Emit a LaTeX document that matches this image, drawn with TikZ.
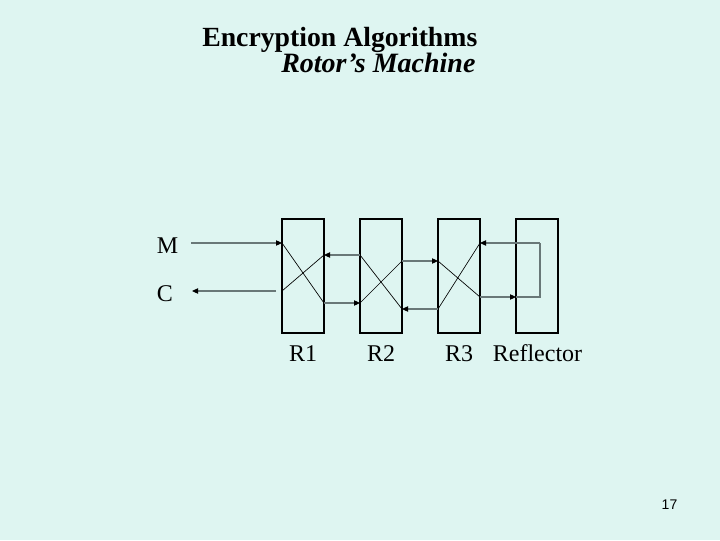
\documentclass[tikz,border=0pt]{standalone}
\usepackage{fontspec}
\setmainfont{Liberation Serif}
\newfontfamily\numfont{Liberation Sans}
\usetikzlibrary{
    arrows.meta,
    positioning
}
\definecolor{slidebg}{RGB}{222,245,241}
\definecolor{wiregray}{RGB}{105,120,120}

\begin{document}
\begin{tikzpicture}[
  x=0.75pt,
  y=0.75pt,
  every node/.style={align=center, inner sep=0pt},
  rotorbox/.style={
    draw=black,
    line width=1.8pt,
    minimum width=31.5pt,
    minimum height=85.5pt
  },
  label/.style={font=\fontsize{18}{20}\selectfont, anchor=base},
  titletext/.style={font=\fontsize{21}{24}\selectfont\bfseries, anchor=base west},
  arrow/.style={-{Triangle[length=4.5pt,width=4pt,black]}, draw=wiregray, line width=0.8pt},
  wire/.style={draw=wiregray, line width=0.8pt},
  cross/.style={draw=black, line width=0.5pt}
]
  \useasboundingbox[fill=slidebg] (0,0) rectangle (720,540);

  % Title lines.
  \node[titletext, font=\fontsize{20.8}{24}\selectfont\bfseries] (title) at (202,493) {Encryption Algorithms};
  \node[titletext, font=\fontsize{21}{24}\selectfont\bfseries\itshape] (subtitle) at (281,467) {Rotor’s Machine};

  % Rotors and reflector.
  \node[rotorbox] (r1) at (303,264) {};
  \node[rotorbox] (r2) at (381,264) {};
  \node[rotorbox] (r3) at (459,264) {};
  \node[rotorbox] (refl) at (537,264) {};

  \node[label] (r1lab) at (303,179) {R1};
  \node[label] (r2lab) at (381,179) {R2};
  \node[label] (r3lab) at (459,179) {R3};
  \node[label] (refllab) at (537.5,179) {Reflector};

  \node[label] (mlab) at (167.5,287) {M};
  \node[label] (clab) at (165,239) {C};

  % Pin points on the rotor sides.
  \coordinate (r1wa) at (282,297);
  \coordinate (r1wb) at (282,249);
  \coordinate (r1ea) at (324,285);
  \coordinate (r1eb) at (324,237);
  \coordinate (r2wa) at (360,285);
  \coordinate (r2wb) at (360,237);
  \coordinate (r2ea) at (402,279);
  \coordinate (r2eb) at (402,231);
  \coordinate (r3wa) at (438,279);
  \coordinate (r3wb) at (438,231);
  \coordinate (r3ea) at (480,297);
  \coordinate (r3eb) at (480,243);
  \coordinate (reflin) at (516,243);
  \coordinate (reflbot) at (540,243);
  \coordinate (refltop) at (540,297);
  \coordinate (minput) at (191,297);
  \coordinate (coutstart) at (276,249);
  \coordinate (coutput) at (192,249);

  % Crossed wiring inside the rotors.
  \draw[cross] (r1wa) -- (r1eb);
  \draw[cross] (r1wb) -- (r1ea);
  \draw[cross] (r2wa) -- (r2eb);
  \draw[cross] (r2wb) -- (r2ea);
  \draw[cross] (r3wa) -- (r3eb);
  \draw[cross] (r3wb) -- (r3ea);

  % Signal path between the rotors.
  \draw[arrow] (minput) -- (r1wa);
  \draw[arrow] (coutstart) -- (coutput);
  \draw[arrow] (r1eb) -- (r2wb);
  \draw[arrow] (r2wa) -- (r1ea);
  \draw[arrow] (r2ea) -- (r3wa);
  \draw[arrow] (r3wb) -- (r2eb);
  \draw[arrow] (r3eb) -- (reflin);
  \draw[wire] (reflin) -- (reflbot) -- (refltop);
  \draw[arrow] (refltop) -- (r3ea);

  % Page number.
  \node[font=\fontsize{10.5}{12}\selectfont\numfont] (pagenum) at (669.5,35.5) {17};
\end{tikzpicture}
\end{document}
